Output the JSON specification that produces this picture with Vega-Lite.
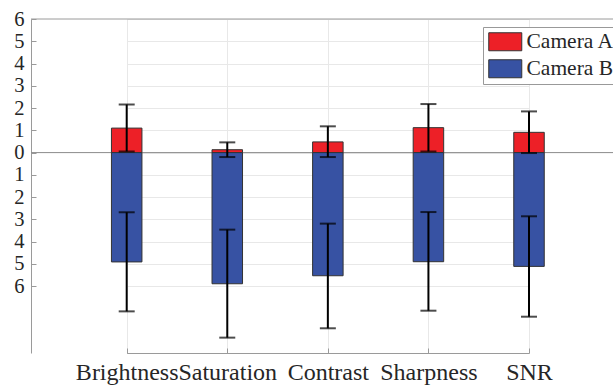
{
  "$schema": "https://vega.github.io/schema/vega-lite/v6.json",
  "width": 582,
  "height": 334,
  "autosize": {"type": "none"},
  "padding": {"left": 31, "top": 19, "right": 0, "bottom": 32},
  "background": "white",
  "config": {
    "view": {"stroke": null},
    "font": "Liberation Serif",
    "axisY": {
      "title": null,
      "labelExpr": "abs(datum.value)",
      "labelFontSize": 20.5,
      "labelFont": "Liberation Serif",
      "labelColor": "#262626",
      "grid": true,
      "gridColor": "#e8e8e8",
      "domainColor": "#9a9a9a",
      "tickColor": "#9a9a9a",
      "tickSize": -5,
      "labelPadding": 12,
      "labelOverlap": false,
      "labelFlush": false,
      "labelBound": false
    },
    "axisX": {
      "title": null,
      "labelAngle": 0,
      "labelFontSize": 24,
      "labelFont": "Liberation Serif",
      "labelColor": "#262626",
      "grid": true,
      "gridColor": "#e8e8e8",
      "domainColor": "#9a9a9a",
      "tickColor": "#9a9a9a",
      "tickSize": -5,
      "labelPadding": 12.5,
      "labelOverlap": false,
      "labelFlush": false,
      "labelBound": false
    }
  },
  "data": {
    "values": [
      {"metric": "Brightness", "camera": "Camera A", "value": 1.10, "lo": 0.05, "hi": 2.16},
      {"metric": "Brightness", "camera": "Camera B", "value": -4.91, "lo": -7.13, "hi": -2.68},
      {"metric": "Saturation", "camera": "Camera A", "value": 0.13, "lo": -0.20, "hi": 0.46},
      {"metric": "Saturation", "camera": "Camera B", "value": -5.89, "lo": -8.31, "hi": -3.46},
      {"metric": "Contrast", "camera": "Camera A", "value": 0.48, "lo": -0.20, "hi": 1.18},
      {"metric": "Contrast", "camera": "Camera B", "value": -5.53, "lo": -7.89, "hi": -3.19},
      {"metric": "Sharpness", "camera": "Camera A", "value": 1.12, "lo": 0.05, "hi": 2.18},
      {"metric": "Sharpness", "camera": "Camera B", "value": -4.90, "lo": -7.10, "hi": -2.67},
      {"metric": "SNR", "camera": "Camera A", "value": 0.91, "lo": -0.02, "hi": 1.85},
      {"metric": "SNR", "camera": "Camera B", "value": -5.11, "lo": -7.37, "hi": -2.86}
    ]
  },
  "layer": [
    {
      "data": {"values": [{"v": 0}]},
      "mark": {"type": "rule", "color": "#8c8c8c", "strokeWidth": 1},
      "encoding": {
        "y": {
          "field": "v", "type": "quantitative",
          "scale": {"domain": [-9, 6], "nice": false, "zero": false},
          "axis": {"values": [-6, -5, -4, -3, -2, -1, 0, 1, 2, 3, 4, 5, 6]}
        }
      }
    },
    {
      "data": {"values": [{"v": 6}]},
      "mark": {"type": "rule", "color": "#9a9a9a", "strokeWidth": 1},
      "encoding": {"y": {"field": "v", "type": "quantitative", "axis": {"values": [-6, -5, -4, -3, -2, -1, 0, 1, 2, 3, 4, 5, 6]}}}
    },
    {
      "mark": {"type": "bar", "width": 30.5, "stroke": "#333333", "strokeWidth": 1},
      "encoding": {
        "x": {
          "field": "metric", "type": "nominal",
          "sort": ["Brightness", "Saturation", "Contrast", "Sharpness", "SNR"],
          "scale": {"type": "point", "range": [95.7, 498], "padding": 0}
        },
        "y": {"field": "value", "type": "quantitative", "axis": {"values": [-6, -5, -4, -3, -2, -1, 0, 1, 2, 3, 4, 5, 6]}},
        "color": {
          "field": "camera", "type": "nominal",
          "scale": {"domain": ["Camera A", "Camera B"], "range": ["#ED2027", "#3752A3"]},
          "legend": {
            "title": null,
            "orient": "none",
            "legendX": 452,
            "legendY": 8,
            "fillColor": "white",
            "strokeColor": "#999999",
            "padding": 4,
            "labelFontSize": 21.5,
            "labelFont": "Liberation Serif",
            "labelColor": "#262626",
            "symbolType": "M-1,-1L2.67,-1L2.67,1L-1,1Z",
            "symbolSize": 324,
            "symbolStrokeColor": "#333333",
            "symbolStrokeWidth": 1,
            "symbolOpacity": 1,
            "labelOffset": 18,
            "rowPadding": 4
          }
        }
      }
    },
    {
      "mark": {"type": "rule", "color": "black", "strokeWidth": 2},
      "encoding": {
        "x": {"field": "metric", "type": "nominal", "sort": ["Brightness", "Saturation", "Contrast", "Sharpness", "SNR"]},
        "y": {"field": "lo", "type": "quantitative", "axis": {"values": [-6, -5, -4, -3, -2, -1, 0, 1, 2, 3, 4, 5, 6]}},
        "y2": {"field": "hi"}
      }
    },
    {
      "mark": {"type": "tick", "color": "black", "thickness": 2, "size": 16, "orient": "horizontal"},
      "encoding": {
        "x": {"field": "metric", "type": "nominal", "sort": ["Brightness", "Saturation", "Contrast", "Sharpness", "SNR"]},
        "y": {"field": "lo", "type": "quantitative", "axis": {"values": [-6, -5, -4, -3, -2, -1, 0, 1, 2, 3, 4, 5, 6]}}
      }
    },
    {
      "mark": {"type": "tick", "color": "black", "thickness": 2, "size": 16, "orient": "horizontal"},
      "encoding": {
        "x": {"field": "metric", "type": "nominal", "sort": ["Brightness", "Saturation", "Contrast", "Sharpness", "SNR"]},
        "y": {"field": "hi", "type": "quantitative", "axis": {"values": [-6, -5, -4, -3, -2, -1, 0, 1, 2, 3, 4, 5, 6]}}
      }
    }
  ]
}
